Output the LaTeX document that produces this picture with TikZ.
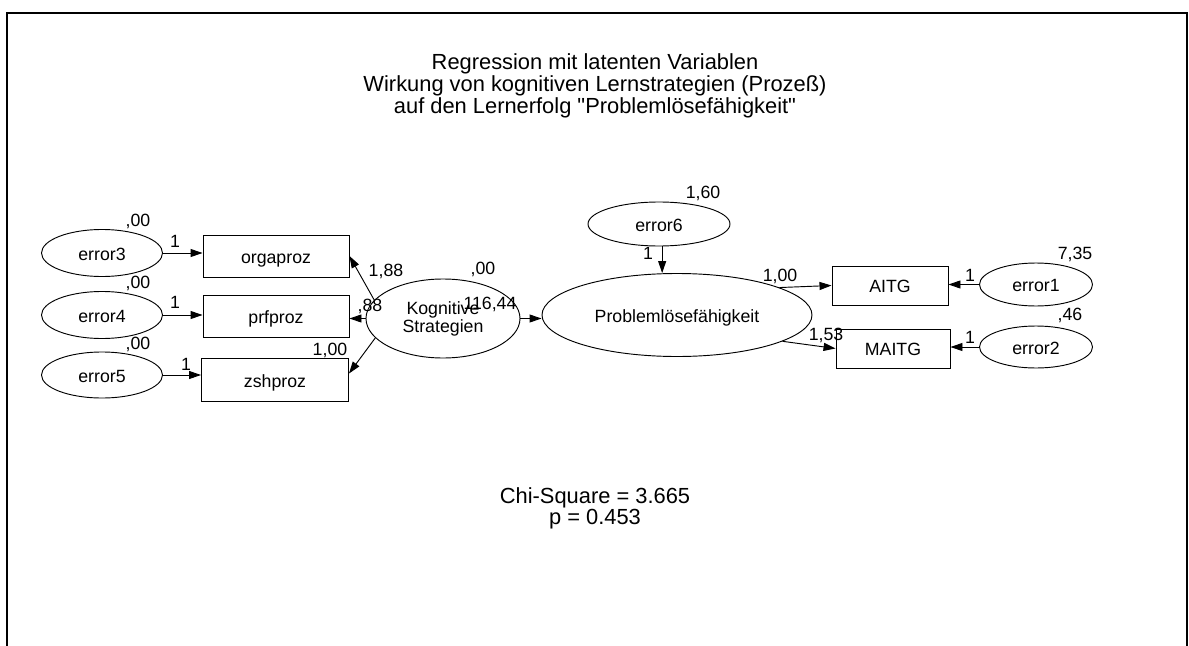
\documentclass[tikz,border=0pt]{standalone}
\usepackage{fontspec}
\setmainfont{Liberation Sans}[Ligatures=TeXOff]
\usetikzlibrary{shapes.geometric,arrows.meta}

\begin{document}
\begin{tikzpicture}[x=0.75pt,y=-0.75pt,
  every node/.style={inner sep=0pt},
  lbl/.style={font=\fontsize{13.3}{13.5}\selectfont},
  lat/.style={draw, ellipse, line width=0.7pt, lbl, text height=11pt, text depth=0pt},
  latwide/.style={draw, ellipse, line width=0.7pt, lbl, align=center},
  obs/.style={draw, rectangle, line width=0.7pt, lbl, text height=11pt, text depth=0pt},
  num/.style={lbl, text depth=0pt},
  big/.style={font=\fontsize{16.4}{14.25}\selectfont, align=center},
  regpath/.style={line width=0.7pt, -{Triangle[length=9pt,width=6pt]}},
  frameline/.style={line width=1.5pt, line join=miter}]

\useasboundingbox (0,0) rectangle (1189,646);

% outer frame, open at the bottom
\draw[frameline] (7,646) -- (7,13) -- (1187,13) -- (1187,646);

% heading
\node[big] (title) at (595,86) {Regression mit latenten Variablen\\
  Wirkung von kognitiven Lernstrategien (Prozeß)\\
  auf den Lernerfolg "Problemlösefähigkeit"};

% error terms of the indicators
\node[lat, minimum width=90.75pt, minimum height=35.25pt] (e3) at (102,253) {error3};
\node[lat, minimum width=90.75pt, minimum height=35.25pt] (e4) at (102,315) {error4};
\node[lat, minimum width=90.75pt, minimum height=34.5pt]  (e5) at (102,375) {error5};

% observed indicators of the strategy factor
\node[obs, minimum width=109.5pt, minimum height=31.5pt] (orga) at (276,256) {orgaproz};
\node[obs, minimum width=109.5pt, minimum height=31.5pt] (prf)  at (276,316) {prfproz};
\node[obs, minimum width=110.25pt, minimum height=32.25pt] (zsh) at (275,380) {zshproz};

% latent variables
\node[latwide, minimum width=115.5pt, minimum height=59.25pt] (K) at (443,318.5) {Kognitive\\Strategien};
\node[lat, minimum width=202.5pt, minimum height=62.25pt] (P) at (677,315) {Problemlösefähigkeit};
\node[lat, minimum width=106.5pt, minimum height=33pt] (e6) at (659,224) {error6};

% outcome indicators and their errors
\node[obs, minimum width=87pt, minimum height=29.25pt]   (AITG)  at (890,285.5) {AITG};
\node[obs, minimum width=85.5pt, minimum height=29.25pt] (MAITG) at (893,348.5) {MAITG};
\node[lat, minimum width=84.75pt, minimum height=32.25pt] (e1) at (1036,284.5) {error1};
\node[lat, minimum width=84.75pt, minimum height=31.5pt]  (e2) at (1036,347) {error2};

% paths
\draw[regpath] (e3.east) -- (orga.west |- e3.east);
\draw[regpath] (e4.east) -- (prf.west |- e4.east);
\draw[regpath] (e5.east) -- (zsh.west |- e5.east);
\draw[regpath] (K.165) -- (orga.east);
\draw[regpath] (K.west) -- (prf.east |- K.west);
\draw[regpath] (K.196) -- (zsh.5);
\draw[regpath] (K.east) -- (P.west |- K.east);
\draw[regpath] (e6.-82) -- (e6.-82 |- P.north);
\draw[regpath] (P.15) -- (AITG.west);
\draw[regpath] (P.-14) -- (MAITG.west);
\draw[regpath] (e1.west) -- (AITG.east |- e1.west);
\draw[regpath] (e2.west) -- (MAITG.east |- e2.west);

% estimates
\node[num] (v3) at (138,220) {,00};
\node[num] (v4) at (138,282) {,00};
\node[num] (v5) at (138,343) {,00};
\node[num] (w3) at (175,241) {1};
\node[num] (w4) at (175,302) {1};
\node[num] (w5) at (186,364) {1};
\node[num] (lzsh) at (330,349) {1,00};
\node[num] (lorga) at (386,270) {1,88};
\node[num] (lprf) at (370,305) {,88};
\node[num] (vK) at (483,268) {,00};
\node[num] (lKP) at (490,303) {116,44};
\node[num] (v6) at (703,192) {1,60};
\node[num] (w6) at (648,253) {1};
\node[num] (lA) at (780,275) {1,00};
\node[num] (lM) at (826,334) {1,53};
\node[num] (v1) at (1075,253) {7,35};
\node[num] (v2) at (1070,314) {,46};
\node[num] (w1) at (970,275) {1};
\node[num] (w2) at (970,337) {1};

% fit
\node[big] (fit) at (595,508) {Chi-Square = 3.665\\p = 0.453};
\end{tikzpicture}
\end{document}
